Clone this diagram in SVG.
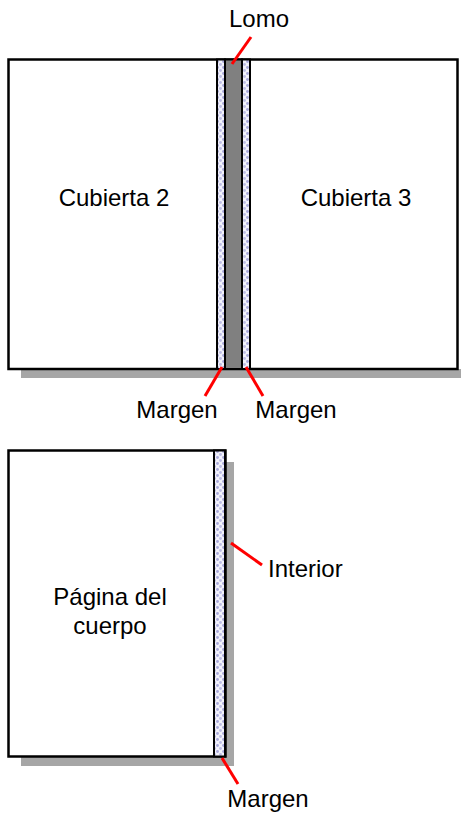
<svg xmlns="http://www.w3.org/2000/svg" width="461" height="816" viewBox="0 0 461 816">
<defs>
<pattern id="dots" width="6" height="6" patternUnits="userSpaceOnUse">
<rect width="6" height="6" fill="#f2f2fb"/>
<circle cx="1.5" cy="1.5" r="1.4" fill="#a8a8da"/>
<circle cx="4.5" cy="4.5" r="1.4" fill="#bcbce4"/>
</pattern>
<style>
.t{font-family:"Liberation Sans",Arial,sans-serif;font-size:24px;fill:#000}
.sh{fill:#a6a6a6}
.pg{fill:#fff;stroke:#000;stroke-width:2.5}
.mg{fill:url(#dots);stroke:#000;stroke-width:2}
.ld{stroke:#ff0000;stroke-width:3;fill:none}
</style>
</defs>
<rect width="461" height="816" fill="#fff"/>
<g id="cover">
<rect class="sh" x="21" y="369" width="440" height="9"/>
<rect class="pg" x="8.5" y="59.5" width="449" height="309.5"/>
<rect class="mg" x="217" y="59.5" width="8" height="309.5"/>
<rect x="225" y="59.5" width="17" height="309.5" fill="#808080" stroke="#000" stroke-width="2"/>
<rect class="mg" x="242" y="59.5" width="8" height="309.5"/>
<text class="t" x="114" y="206" text-anchor="middle">Cubierta 2</text>
<text class="t" x="356" y="206" text-anchor="middle">Cubierta 3</text>
</g>
<g id="body-page">
<rect class="sh" x="21" y="757" width="213" height="9"/>
<rect class="sh" x="226" y="462" width="8" height="304"/>
<rect class="pg" x="8.5" y="450.5" width="217" height="306"/>
<rect class="mg" x="214" y="450.5" width="11" height="306"/>
<text class="t" x="110" y="605" text-anchor="middle">Página del</text>
<text class="t" x="110" y="634" text-anchor="middle">cuerpo</text>
</g>
<g id="labels">
<text class="t" x="259" y="27" text-anchor="middle">Lomo</text>
<text class="t" x="177" y="418" text-anchor="middle">Margen</text>
<text class="t" x="296" y="418" text-anchor="middle">Margen</text>
<text class="t" x="268" y="577">Interior</text>
<text class="t" x="268" y="807" text-anchor="middle">Margen</text>
</g>
<g id="connectors">
<line class="ld" x1="251" y1="37" x2="232" y2="64"/>
<line class="ld" x1="222" y1="367" x2="205" y2="396"/>
<line class="ld" x1="246" y1="367" x2="263" y2="396"/>
<line class="ld" x1="231" y1="543" x2="262" y2="565"/>
<line class="ld" x1="222" y1="758" x2="238" y2="784"/>
</g>
</svg>
